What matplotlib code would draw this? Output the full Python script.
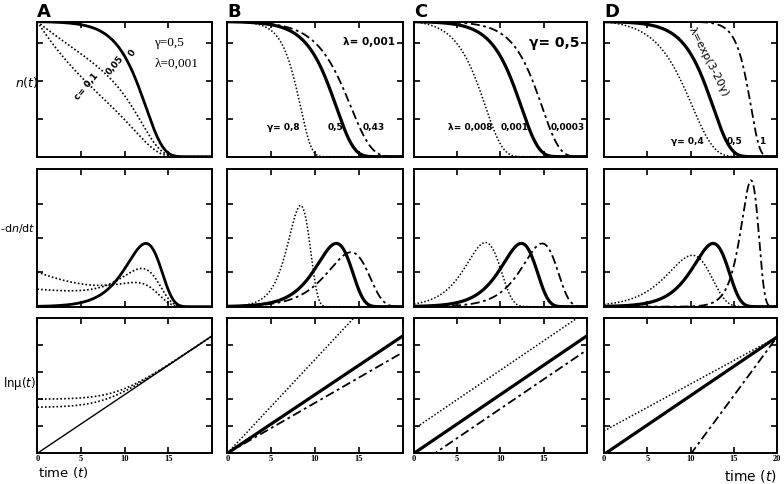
import numpy as np
import matplotlib.pyplot as plt

# Gompertz-Makeham parameters written on each column of the figure
# hazard mu(t) = c + lambda * exp(gamma * t)
a_c = [0.0, 0.05, 0.1]
a_gamma = 0.5
a_lam = 0.001
b_gamma = [0.8, 0.5, 0.43]
b_lam = 0.001
c_gamma = 0.5
c_lam = [0.008, 0.001, 0.0003]
d_gamma = [0.4, 0.5, 1.0]          # lambda = exp(3 - 20*gamma)

x_ticks = [0, 5, 10, 15, 20]
row_labels = ['$n$($t$)', '-d$n$/d$t$', 'ln\u03bc($t$)']
panel_letters = ['A', 'B', 'C', 'D']

DOT = (0, (1, 1.3))
DASHDOT = (0, (5, 2, 1.5, 2))


def survival(t, c, lam, g):
    return np.exp(-c * t - lam / g * (np.exp(g * t) - 1))


def hazard(t, c, lam, g):
    return c + lam * np.exp(g * t)


t = np.linspace(0, 20, 800)

# (c, lambda, gamma, style, width) for each curve of each column
columns = [
    [(a_c[0], a_lam, a_gamma, '-', 2.0),
     (a_c[1], a_lam, a_gamma, DOT, 1.2),
     (a_c[2], a_lam, a_gamma, DOT, 1.2)],
    [(0.0, b_lam, b_gamma[0], DOT, 1.1),
     (0.0, b_lam, b_gamma[1], '-', 2.3),
     (0.0, b_lam, b_gamma[2], DASHDOT, 1.3)],
    [(0.0, c_lam[0], c_gamma, DOT, 1.1),
     (0.0, c_lam[1], c_gamma, '-', 2.3),
     (0.0, c_lam[2], c_gamma, DASHDOT, 1.3)],
    [(0.0, np.exp(3 - 20 * d_gamma[0]), d_gamma[0], DOT, 1.1),
     (0.0, np.exp(3 - 20 * d_gamma[1]), d_gamma[1], '-', 2.3),
     (0.0, np.exp(3 - 20 * d_gamma[2]), d_gamma[2], DASHDOT, 1.3)],
]

W, H = 784, 484
fig = plt.figure(figsize=(W / 100, H / 100), dpi=100)

col_left = [37.3, 227.3, 414, 604]
col_width = [174.7, 175.4, 172.7, 173]
row_top = [21.7, 169.3, 318.3]
row_height = [135, 137.4, 135]

ylims = [(0, 1), (0, 0.4), (np.log(0.001), 4.6)]
yticks = [[0.28, 0.56, 0.84], [0.1, 0.2, 0.3],
          list(np.log(0.001) + np.arange(1, 5) * (4.6 - np.log(0.001)) / 5)]

axes = [[None] * 4 for _ in range(3)]
for r in range(3):
    for k in range(4):
        ax = fig.add_axes([col_left[k] / W, 1 - (row_top[r] + row_height[r]) / H,
                           col_width[k] / W, row_height[r] / H])
        ax.set_xlim(0, 20)
        ax.set_ylim(*ylims[r])
        ax.set_xticks([5, 10, 15] if r < 2 else x_ticks)
        ax.set_yticks(yticks[r])
        ax.tick_params(direction='in', top=True, right=True, length=4, width=1.2,
                       labelleft=False, labelbottom=(r == 2), pad=1)
        for s in ax.spines.values():
            s.set_linewidth(1.4)
        for c, lam, g, ls, lw in columns[k]:
            n = survival(t, c, lam, g)
            mu = hazard(t, c, lam, g)
            y = [n, mu * n, np.log(mu)][r]
            w = lw
            if k == 0 and r == 2 and ls == '-':
                w = 1.0
            ax.plot(t, y, color='black', linestyle=ls, linewidth=w)
        if r == 2:
            labels = ['0', '5', '10', '15', '20' if k == 3 else '']
            ax.set_xticklabels(labels, fontfamily='Liberation Serif',
                               fontweight='bold', fontsize=6)
        axes[r][k] = ax

# panel letters
for k in range(4):
    fig.text(col_left[k] / W, 1 - 17 / H, panel_letters[k], fontsize=13,
             fontweight='bold', ha='left', va='baseline')

# row labels
fig.text(27 / W, 1 - 82 / H, row_labels[0], fontsize=9, ha='center', va='center')
fig.text(0.5 / W, 1 - 229 / H, row_labels[1], fontsize=8, ha='left', va='center')
fig.text(3 / W, 1 - 383 / H, row_labels[2], fontsize=8.5, ha='left', va='center')
fig.text(38 / W, 1 - 472 / H, 'time ($t$)', fontsize=9.5, ha='left', va='center')
fig.text(777 / W, 1 - 476 / H, 'time ($t$)', fontsize=10, ha='right', va='center')

# annotations, panel A
ax = axes[0][0]
ax.text(13.4, 0.84, '\u03b3=0,5', fontfamily='Liberation Serif', fontsize=9.5, va='center')
ax.text(13.4, 0.69, '\u03bb=0,001', fontfamily='Liberation Serif', fontsize=9.5, va='center')
ax.text(10.9, 0.77, '0', fontsize=6.5, fontweight='bold', rotation=55,
        ha='center', va='center')
ax.text(8.9, 0.68, '0,05', fontsize=6.5, fontweight='bold', rotation=50,
        ha='center', va='center')
ax.text(5.6, 0.52, 'c= 0,1', fontsize=6.5, fontweight='bold', rotation=50,
        ha='center', va='center')

# panel B
ax = axes[0][1]
ax.text(16.2, 0.85, '\u03bb= 0,001', fontsize=7.5, fontweight='bold', ha='center', va='center')
ax.text(6.35, 0.215, '\u03b3= 0,8', fontsize=6.5, fontweight='bold', ha='center', va='center')
ax.text(12.3, 0.215, '0,5', fontsize=6.5, fontweight='bold', ha='center', va='center')
ax.text(16.7, 0.215, '0,43', fontsize=6.5, fontweight='bold', ha='center', va='center')

# panel C
ax = axes[0][2]
ax.text(16.2, 0.84, '\u03b3= 0,5', fontsize=10, fontweight='bold', ha='center', va='center')
ax.text(6.5, 0.215, '\u03bb= 0,008', fontsize=6.5, fontweight='bold', ha='center', va='center')
ax.text(11.7, 0.215, '0,001', fontsize=6.5, fontweight='bold', ha='center', va='center')
ax.text(17.8, 0.215, '0,0003', fontsize=6.5, fontweight='bold', ha='center', va='center')

# panel D
ax = axes[0][3]
ax.text(12.1, 0.70, '\u03bb=exp(3-20\u03b3)', fontsize=8, rotation=-63,
        ha='center', va='center')
ax.text(9.65, 0.11, '\u03b3= 0,4', fontsize=6.5, fontweight='bold', ha='center', va='center')
ax.text(15.1, 0.11, '0,5', fontsize=6.5, fontweight='bold', ha='center', va='center')
ax.text(18.3, 0.11, '1', fontsize=6.5, fontweight='bold', ha='center', va='center')

fig.savefig('out.png', dpi=100)
